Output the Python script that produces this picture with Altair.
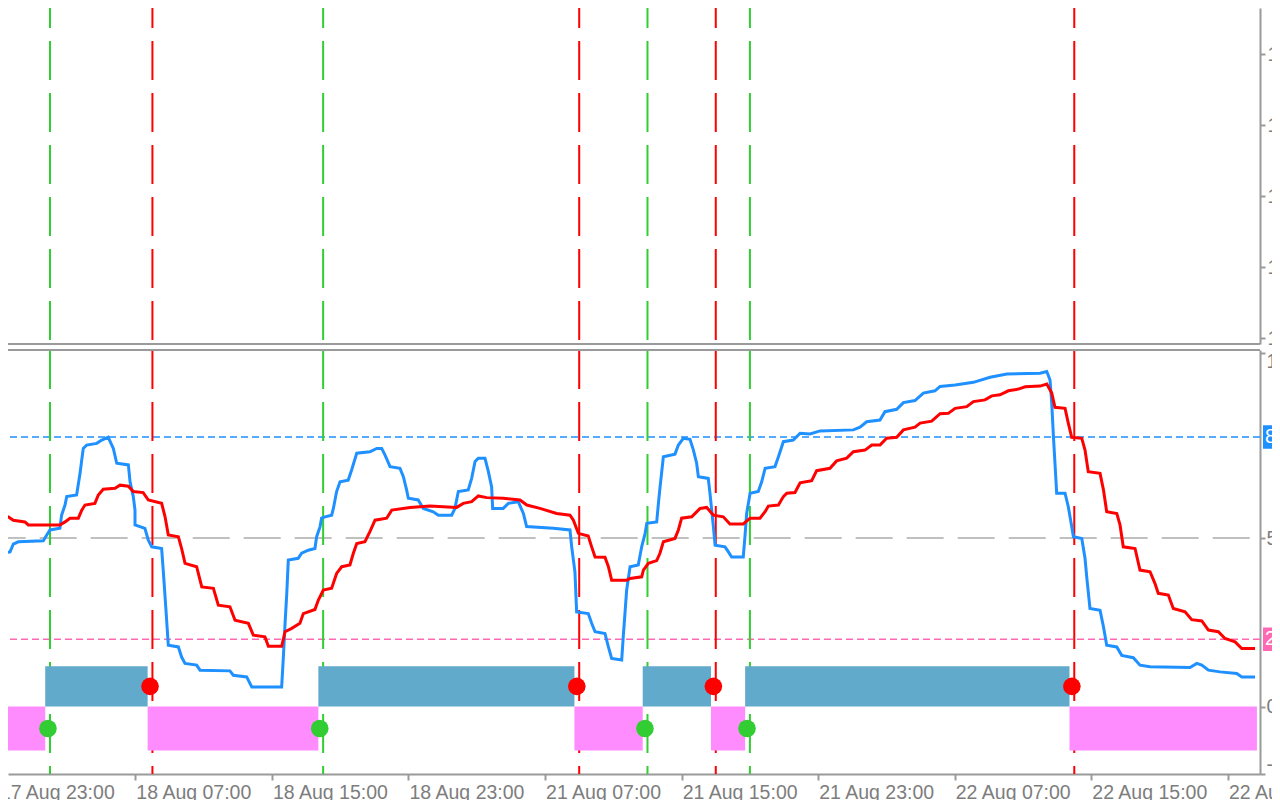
import altair as alt
import pandas as pd

# ---------------- data (x = trading hours since 17 Aug 23:00, weekend removed) ----------------
tick_hours = [0, 8, 16, 24, 32, 40, 48, 56, 64, 72]
tick_labels = ["17 Aug 23:00", "18 Aug 07:00", "18 Aug 15:00", "18 Aug 23:00",
               "21 Aug 07:00", "21 Aug 15:00", "21 Aug 23:00", "22 Aug 07:00",
               "22 Aug 15:00", "22 Aug 23:00"]

price_ticks = [1.1790, 1.1800, 1.1810, 1.1820, 1.1830]
price_domain = [1.1789155, 1.1836479]

osc_ticks = [-20, 0, 50, 105]
osc_domain = [-20, 105.8]
level_hi, level_mid, level_lo = 80, 50, 20

buy_signal_hours = [3, 19, 38, 44]
sell_signal_hours = [9, 34, 42, 63]
buy_dot_hours = [2.88, 18.80, 37.85, 43.83]
sell_dot_hours = [8.86, 33.86, 41.86, 62.86]
buy_dot_value = -6.5
sell_dot_value = 6

block_edges = [0.0, 2.72, 8.72, 18.72, 33.72, 37.72, 41.72, 43.72, 62.72, 73.70]
block_state = ["down", "up", "down", "up", "down", "up", "down", "up", "down"]
up_band = (0, 12)
down_band = (-13, 0)

blue_h = [0.07, 0.66, 0.85, 1.14, 2.61, 2.81, 3.00, 3.58, 3.68, 3.88, 3.98, 4.56, 4.76, 4.86, 4.95,
          5.15, 5.74, 6.03, 6.41, 6.71, 6.91, 7.59, 7.69, 7.88, 7.98, 7.98, 8.56, 8.76, 8.96, 9.54,
          9.64, 9.74, 9.84, 9.93, 10.52, 10.71, 10.91, 11.59, 11.79, 13.54, 13.74, 14.52, 14.82,
          16.57, 16.67, 16.77, 16.87, 16.96, 17.54, 17.74, 18.13, 18.52, 18.62, 18.82, 18.91,
          19.11, 19.50, 19.60, 19.79, 19.99, 20.47, 20.67, 20.97, 21.74, 22.14, 22.43, 22.62,
          22.92, 23.50, 23.70, 23.89, 23.99, 24.57, 24.87, 25.45, 25.75, 26.53, 26.72, 26.92,
          27.50, 27.70, 27.90, 28.09, 28.48, 28.68, 28.87, 28.93, 29.55, 29.85, 30.43, 30.73,
          30.92, 32.48, 33.46, 33.56, 33.75, 33.85, 34.53, 34.73, 34.93, 35.51, 35.71, 35.90,
          36.49, 36.58, 36.68, 36.78, 36.98, 37.46, 37.66, 37.86, 37.96, 38.54, 38.64, 38.73,
          38.93, 39.61, 39.81, 40.10, 40.49, 40.69, 40.88, 40.98, 41.56, 41.66, 41.86, 41.96,
          42.54, 42.74, 42.93, 43.61, 43.71, 43.81, 44.01, 44.49, 44.69, 44.89, 45.47, 45.67,
          45.96, 46.54, 46.94, 47.52, 48.11, 50.06, 50.45, 50.84, 51.62, 51.91, 52.60, 52.99,
          53.67, 54.16, 54.84, 55.14, 56.02, 57.09, 58.07, 59.05, 61.00, 61.39, 61.58, 61.68,
          61.78, 61.87, 61.97, 62.46, 62.65, 62.85, 62.95, 63.44, 63.63, 63.73, 63.92, 64.51,
          64.71, 64.90, 65.49, 65.78, 66.46, 66.85, 67.44, 69.78, 70.18, 70.47, 70.86, 71.54,
          72.52, 72.81, 73.59]
blue_v = [45.5, 45.9, 48.2, 48.9, 49.2, 50.9, 52.4, 52.9, 56.8, 59.8, 62.3, 62.8, 69.2, 73.2, 76.6,
          77.6, 78.1, 79.1, 79.9, 76.6, 72.2, 71.7, 66.7, 62.3, 58.3, 53.9, 52.9, 49.4, 47.4, 46.9,
          40.0, 32.6, 25.1, 18.2, 17.7, 14.7, 12.8, 12.3, 10.8, 10.6, 9.3, 8.8, 5.8,
          5.8, 14.7, 24.7, 33.6, 43.5, 44.0, 45.5, 46.4, 46.9, 50.4, 53.4, 55.9,
          56.3, 56.8, 58.8, 63.8, 66.7, 67.2, 70.2, 75.2, 75.6, 76.6, 76.6, 74.7,
          71.2, 70.7, 68.2, 64.3, 61.8, 61.3, 58.8, 57.8, 56.8, 56.8, 58.8, 63.8,
          64.3, 67.7, 72.7, 73.7, 73.7, 69.7, 65.2, 58.8, 58.8, 60.3, 60.8, 57.3,
          53.4, 52.9, 52.4, 47.4, 40.0, 28.1, 27.6, 24.7, 22.2, 21.7, 17.7, 14.3,
          13.8, 20.7, 27.6, 34.6, 41.5, 42.0, 47.4, 51.4, 54.4, 54.8, 60.3, 64.8,
          74.1, 74.9, 77.6, 79.6, 79.3, 76.1, 72.2, 68.2, 67.7, 63.3, 53.4, 47.9,
          47.4, 45.9, 44.4, 44.4, 50.4, 57.3, 63.3, 63.8, 66.7, 70.7, 71.2, 74.1,
          78.6, 79.1, 81.1, 80.9, 81.8, 82.1, 82.9, 84.5, 85.0, 87.5, 88.2, 90.2,
          90.8, 93.0, 93.7, 95.0, 95.4, 96.2, 97.7, 98.7, 98.9, 99.4, 96.9, 90.0,
          80.1, 72.2, 63.3, 63.3, 59.3, 53.4, 50.4, 49.9, 44.0, 38.5, 29.1, 28.6,
          23.7, 18.2, 17.7, 15.2, 14.5, 12.3, 11.8, 11.6, 12.8, 12.3, 10.8, 10.3,
          9.8, 8.8, 8.8]

red_h = [0.07, 0.56, 0.85, 1.53, 1.73, 3.58, 3.88, 4.17, 4.66, 4.86, 5.05, 5.63, 5.83, 6.12, 6.81,
         7.10, 7.59, 7.88, 8.46, 8.76, 9.54, 9.74, 9.93, 10.52, 10.71, 10.91, 11.59, 11.89, 12.57,
         12.86, 13.54, 13.84, 14.62, 14.91, 15.59, 15.79, 16.57, 16.77, 17.16, 17.64, 17.84, 18.52,
         18.72, 19.01, 19.50, 19.79, 20.09, 20.57, 20.77, 20.97, 21.45, 21.74, 22.04, 22.72, 23.02,
         24.09, 25.26, 26.82, 27.21, 27.70, 28.09, 28.58, 29.55, 30.53, 30.93, 31.70, 32.68, 33.46,
         33.66, 33.95, 34.53, 34.73, 34.93, 35.51, 35.71, 35.90, 36.78, 36.98, 37.66, 37.76, 38.05,
         38.54, 38.73, 38.93, 39.61, 39.81, 40.00, 40.59, 41.08, 41.47, 41.86, 42.44, 42.83, 43.61,
         44.01, 44.59, 44.89, 45.08, 45.67, 45.96, 46.16, 46.64, 46.94, 47.62, 47.91, 48.69, 49.08,
         49.67, 50.06, 50.74, 51.14, 51.62, 52.01, 52.60, 52.99, 53.67, 53.97, 54.65, 55.14, 55.62,
         56.02, 56.70, 57.09, 57.77, 58.17, 58.65, 59.14, 59.73, 60.12, 61.00, 61.39, 61.68, 61.87,
         62.46, 62.65, 62.85, 63.44, 63.63, 63.82, 64.51, 64.71, 64.90, 65.49, 65.68, 65.87, 66.56,
         66.85, 67.44, 67.73, 67.92, 68.51, 68.80, 69.49, 69.88, 70.47, 70.86, 71.44, 71.83, 72.42,
         72.81, 73.59]
red_v = [56.8, 56.3, 55.3, 54.8, 53.9, 53.9, 54.8, 55.9, 55.9, 58.3, 59.8, 60.3, 62.8, 64.5, 64.8,
         65.7, 65.4, 63.8, 63.5, 61.3, 60.3, 56.3, 50.9, 50.4, 46.9, 42.5, 41.5, 35.5, 35.1,
         30.1, 29.6, 25.6, 24.7, 21.2, 20.7, 17.9, 17.9, 22.2, 23.2, 24.7, 27.6, 28.8,
         31.6, 34.6, 35.1, 39.5, 41.5, 42.0, 45.5, 48.4, 48.9, 51.9, 55.3, 55.9, 58.3,
         59.1, 59.5, 59.1, 60.3, 60.8, 62.5, 62.0, 61.8, 61.3, 59.8, 58.8, 57.3, 56.8,
         55.3, 51.4, 50.6, 47.4, 44.4, 44.3, 41.5, 37.5, 37.5, 38.0, 38.5, 40.5, 42.5,
         43.3, 45.5, 48.9, 49.9, 52.4, 55.9, 56.3, 58.8, 59.1, 56.8, 56.3, 54.2, 54.2,
         55.9, 55.9, 57.8, 59.5, 59.8, 62.3, 63.3, 63.5, 66.4, 67.0, 70.0, 70.7, 72.9,
         73.7, 75.6, 76.1, 77.6, 77.6, 79.6, 79.9, 82.1, 82.9, 84.1, 84.7, 86.9, 87.0,
         88.5, 89.0, 90.5, 91.0, 92.2, 92.5, 93.7, 94.2, 94.9, 95.1, 95.7, 93.0, 88.8,
         88.5, 84.1, 79.9, 79.6, 76.1, 69.7, 69.2, 64.3, 57.8, 57.3, 53.9, 47.4, 46.9,
         40.5, 40.0, 36.5, 33.6, 33.1, 29.1, 28.1, 25.8, 25.4, 22.7, 22.2, 20.2, 19.2,
         17.2, 17.2]

# ---------------- styling ----------------
W, H1, H2 = 1252, 336, 424
XDOM = [0.54, 73.88]
GREEN, RED = "#32CD32", "#FF0000"
BLUE, PINKL = "#1E90FF", "#FF69B4"
BLOCK_BLUE, BLOCK_PINK = "#61AACB", "#FF8CFF"
GRID_GREY = "#C0C0C0"
AX = "#9a9a9a"
LBL = "#7d7d7d"
FONT = "Liberation Sans"
FS = 19.5

x_scale = alt.Scale(domain=XDOM, nice=False, zero=False)
y_up = alt.Scale(domain=price_domain, nice=False, zero=False)
y_low = alt.Scale(domain=osc_domain, nice=False, zero=False)

ax_x = alt.Axis(orient="bottom", values=tick_hours, labels=False, ticks=True, tickSize=6,
                tickWidth=2, tickColor=AX, domain=True, domainColor=AX, domainWidth=2,
                grid=False, title=None)
ax_up = alt.Axis(orient="right", values=price_ticks, format=".5f", tickSize=5, tickWidth=2,
                 tickColor=AX, domainColor=AX, domainWidth=2, labelFont=FONT, labelFontSize=FS,
                 labelColor=LBL, labelPadding=2, grid=False, title=None)
ax_low = alt.Axis(orient="right", values=osc_ticks, tickSize=5, tickWidth=2,
                  labelExpr="datum.value < 0 ? '-' + abs(datum.value) : '' + datum.value",
                  tickColor=AX, domainColor=AX, domainWidth=2, labelFont=FONT, labelFontSize=FS,
                  labelColor=LBL, labelPadding=1, labelFlush=6, grid=False, title=None)


def xq(f, axis=ax_x):
    return alt.X(f, type="quantitative", scale=x_scale, axis=axis)


def yl(f):
    return alt.Y(f, type="quantitative", scale=y_low, axis=ax_low)


buy_df = pd.DataFrame({"hour": buy_signal_hours})
sell_df = pd.DataFrame({"hour": sell_signal_hours})

# ---------------- upper panel ----------------
up_buy = alt.Chart(buy_df).mark_rule(color=GREEN, strokeWidth=2, strokeDash=[39, 13],
                                     strokeDashOffset=19).encode(x=xq("hour", None))
up_sell = alt.Chart(sell_df).mark_rule(color=RED, strokeWidth=2, strokeDash=[39, 13],
                                       strokeDashOffset=19).encode(x=xq("hour", None))
up_border = alt.Chart(pd.DataFrame({"p": [price_domain[0]]})).mark_rule(
    color=AX, strokeWidth=2).encode(y=alt.Y("p:Q", scale=y_up, axis=ax_up))
upper = alt.layer(up_buy, up_sell, up_border).properties(width=W, height=H1)

# ---------------- lower panel ----------------
lv_hi = alt.Chart(pd.DataFrame({"v": [level_hi]})).mark_rule(
    color=BLUE, strokeWidth=1.5, strokeDash=[7, 4]).encode(y=yl("v"))
lv_lo = alt.Chart(pd.DataFrame({"v": [level_lo]})).mark_rule(
    color=PINKL, strokeWidth=1.5, strokeDash=[7, 4]).encode(y=yl("v"))
lv_mid = alt.Chart(pd.DataFrame({"v": [level_mid]})).mark_rule(
    color=GRID_GREY, strokeWidth=2, strokeDash=[37, 14], strokeDashOffset=40.7).encode(y=yl("v"))

lo_buy = alt.Chart(buy_df).mark_rule(color=GREEN, strokeWidth=2, strokeDash=[39, 13]).encode(x=xq("hour"))
lo_sell = alt.Chart(sell_df).mark_rule(color=RED, strokeWidth=2, strokeDash=[39, 13]).encode(x=xq("hour"))

rows = []
for i, s in enumerate(block_state):
    lo, hi = up_band if s == "up" else down_band
    rows.append({"start": block_edges[i], "end": block_edges[i + 1], "lo": lo, "hi": hi, "state": s})
blocks = pd.DataFrame(rows)
blk_up = alt.Chart(blocks[blocks.state == "up"]).mark_rect(color=BLOCK_BLUE).encode(
    x=xq("start"), x2="end", y=yl("lo"), y2="hi")
blk_dn = alt.Chart(blocks[blocks.state == "down"]).mark_rect(color=BLOCK_PINK).encode(
    x=xq("start"), x2="end", y=yl("lo"), y2="hi")

blue_df = pd.DataFrame({"hour": blue_h, "v": blue_v, "i": range(len(blue_h))})
red_df = pd.DataFrame({"hour": red_h, "v": red_v, "i": range(len(red_h))})
blue_line = alt.Chart(blue_df).mark_line(color=BLUE, strokeWidth=3).encode(
    x=xq("hour"), y=yl("v"), order="i:Q")
red_line = alt.Chart(red_df).mark_line(color=RED, strokeWidth=3).encode(
    x=xq("hour"), y=yl("v"), order="i:Q")

buy_dots = alt.Chart(pd.DataFrame({"hour": buy_dot_hours, "v": [buy_dot_value] * len(buy_dot_hours)})
                     ).mark_circle(color=GREEN, size=310, opacity=1).encode(x=xq("hour"), y=yl("v"))
sell_dots = alt.Chart(pd.DataFrame({"hour": sell_dot_hours, "v": [sell_dot_value] * len(sell_dot_hours)})
                      ).mark_circle(color=RED, size=310, opacity=1).encode(x=xq("hour"), y=yl("v"))

top_border = alt.Chart(pd.DataFrame({"v": [osc_domain[1]]})).mark_rule(
    color=AX, strokeWidth=2).encode(y=yl("v"))

box_df = pd.DataFrame({"v": [level_hi, level_lo], "lo": [level_hi - 3.5, level_lo - 3.5],
                       "hi": [level_hi + 3.5, level_lo + 3.5], "t": ["80", "20"],
                       "c": [BLUE, PINKL]})
boxes = alt.Chart(box_df).mark_rect().encode(
    x=alt.value(W + 3), x2=alt.value(W + 60), y=yl("lo"), y2="hi",
    color=alt.Color("c:N", scale=None, legend=None))
box_txt = alt.Chart(box_df).mark_text(align="left", baseline="middle", font=FONT, fontSize=FS,
                                      color="white").encode(
    x=alt.value(W + 5), y=yl("v"), text="t:N")

xlab = alt.Chart(pd.DataFrame({"hour": tick_hours, "label": tick_labels})).mark_text(
    align="left", baseline="top", dx=1, font=FONT, fontSize=FS, color=LBL).encode(
    x=xq("hour"), y=alt.value(H2 + 10), text="label:N")

lower = alt.layer(lv_hi, lv_lo, lv_mid, lo_buy, lo_sell, blk_up, blk_dn, blue_line, red_line,
                  buy_dots, sell_dots, top_border, boxes, box_txt, xlab
                  ).properties(width=W, height=H2)

chart = alt.vconcat(upper, lower, spacing=6, bounds="flush").properties(
    padding={"left": 0, "top": 0, "right": 12, "bottom": 792},
    autosize=alt.AutoSizeParams(type="none"),
    background="white",
).configure_view(stroke=None)

chart.save("out.html", embed_options={"renderer": "svg", "actions": False})
